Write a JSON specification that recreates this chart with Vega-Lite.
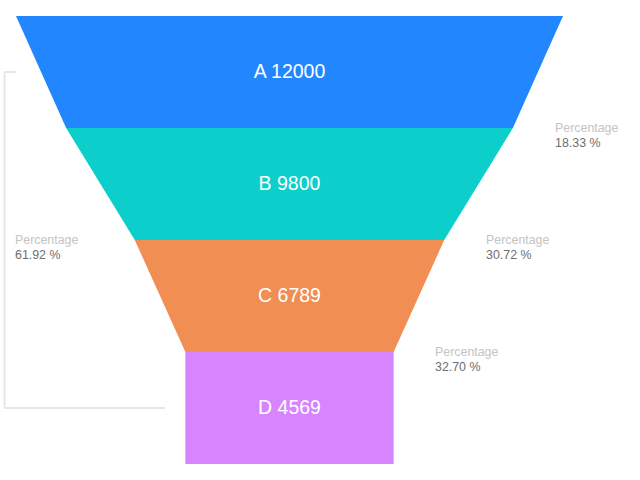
{
  "$schema": "https://vega.github.io/schema/vega-lite/v6.json",
  "width": 640,
  "height": 480,
  "padding": 0,
  "autosize": {"type": "fit", "contains": "padding"},
  "background": "white",
  "config": {"view": {"stroke": null}, "font": "Liberation Sans"},
  "datasets": {
    "shape": [
      {"stage": "A", "pos": 0, "lo": -6000, "hi": 6000},
      {"stage": "A", "pos": 1, "lo": -4900, "hi": 4900},
      {"stage": "B", "pos": 1, "lo": -4900, "hi": 4900},
      {"stage": "B", "pos": 2, "lo": -3394.5, "hi": 3394.5},
      {"stage": "C", "pos": 2, "lo": -3394.5, "hi": 3394.5},
      {"stage": "C", "pos": 3, "lo": -2284.5, "hi": 2284.5},
      {"stage": "D", "pos": 3, "lo": -2284.5, "hi": 2284.5},
      {"stage": "D", "pos": 4, "lo": -2284.5, "hi": 2284.5}
    ],
    "names": [
      {"label": "A 12000", "x": 0, "pos": 0.5},
      {"label": "B 9800", "x": 0, "pos": 1.5},
      {"label": "C 6789", "x": 0, "pos": 2.5},
      {"label": "D 4569", "x": 0, "pos": 3.5}
    ],
    "pcts": [
      {"pct": "18.33 %", "x": 5825, "pos": 1},
      {"pct": "30.72 %", "x": 4311, "pos": 2},
      {"pct": "32.70 %", "x": 3192, "pos": 3},
      {"pct": "61.92 %", "x": -6022, "pos": 2}
    ],
    "bracket": [
      {"x1": -6252, "x2": -6252, "y1": 0.5, "y2": 3.5},
      {"x1": -6252, "x2": -6000, "y1": 0.5, "y2": 0.5},
      {"x1": -6252, "x2": -2731, "y1": 3.5, "y2": 3.5}
    ]
  },
  "layer": [
    {
      "data": {"name": "shape"},
      "mark": {"type": "area", "orient": "horizontal", "opacity": 1},
      "encoding": {
        "y": {"field": "pos", "type": "quantitative", "scale": {"domain": [-0.142857, 4.142857], "reverse": true, "nice": false, "zero": false}, "axis": null},
        "x": {"field": "lo", "type": "quantitative", "scale": {"domain": [-6351, 7689], "nice": false, "zero": false}, "axis": null},
        "x2": {"field": "hi"},
        "color": {"field": "stage", "type": "nominal", "scale": {"domain": ["A", "B", "C", "D"], "range": ["#2287ff", "#0ccfcc", "#f08e54", "#d884ff"]}, "legend": null}
      }
    },
    {
      "data": {"name": "bracket"},
      "mark": {"type": "rule", "color": "#e6e6e6", "strokeWidth": 2},
      "encoding": {
        "x": {"field": "x1", "type": "quantitative"},
        "x2": {"field": "x2"},
        "y": {"field": "y1", "type": "quantitative"},
        "y2": {"field": "y2"}
      }
    },
    {
      "data": {"name": "names"},
      "mark": {"type": "text", "fontSize": 19.5, "color": "#ffffff", "align": "center", "baseline": "middle"},
      "encoding": {
        "x": {"field": "x", "type": "quantitative"},
        "y": {"field": "pos", "type": "quantitative"},
        "text": {"field": "label"}
      }
    },
    {
      "data": {"name": "pcts"},
      "mark": {"type": "text", "fontSize": 12.4, "color": "#c4c4c4", "align": "left", "baseline": "middle", "text": "Percentage"},
      "encoding": {
        "x": {"field": "x", "type": "quantitative"},
        "y": {"field": "pos", "type": "quantitative"}
      }
    },
    {
      "data": {"name": "pcts"},
      "mark": {"type": "text", "fontSize": 12.4, "color": "#6e6e6e", "align": "left", "baseline": "middle", "dy": 14.5},
      "encoding": {
        "x": {"field": "x", "type": "quantitative"},
        "y": {"field": "pos", "type": "quantitative"},
        "text": {"field": "pct"}
      }
    }
  ]
}
